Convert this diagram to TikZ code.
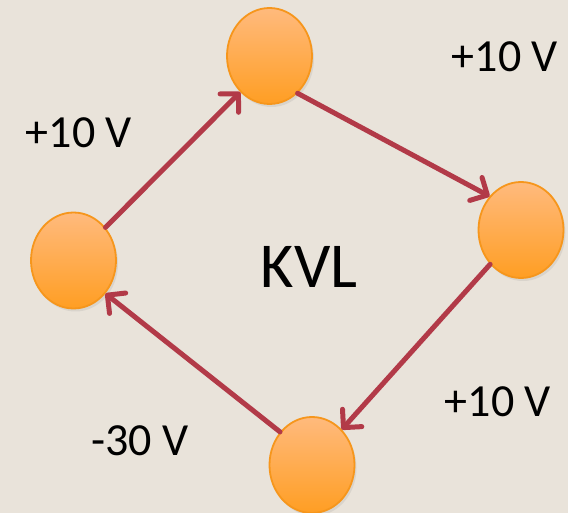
\documentclass[tikz,border=0pt]{standalone}
\usepackage{fontspec}
\setmainfont{Carlito}
\usetikzlibrary{arrows.meta,shapes.geometric,shadows}
\definecolor{bg}{RGB}{233,227,218}
\definecolor{arr}{RGB}{178,58,72}
\definecolor{ebord}{RGB}{246,150,28}
\definecolor{etop}{RGB}{255,186,125}
\definecolor{ebot}{RGB}{255,158,35}
\begin{document}
\begin{tikzpicture}[x=1pt,y=-1pt,
  ball/.style={ellipse, draw=ebord, line width=1.8pt, top color=etop, bottom color=ebot,
    minimum width=85pt, minimum height=96pt, inner sep=0pt,
    drop shadow={opacity=0.15, shadow xshift=2pt, shadow yshift=-3pt}},
  conn/.style={draw=arr, line width=5pt, line cap=round,
    -{Straight Barb[length=13pt,width=26pt,line width=5pt,round]}},
  lab/.style={anchor=base, font=\fontsize{46}{50}\selectfont, inner sep=0pt}]
\fill[bg] (0,0) rectangle (568,513);
\useasboundingbox (0,0) rectangle (568,513);
\node[ball] (t) at (269.5,56) {};
\node[ball] (r) at (521,230) {};
\node[ball] (b) at (312,465) {};
\node[ball] (l) at (73.5,260.5) {};
\draw[conn] (l.46) -- (t.231);
\draw[conn] (t.-53) -- (r.133);
\draw[conn] (r.228) -- (b.50);
\draw[conn] (b.134) -- (l.-46);
\node[lab] (lt) at (79,148) {+10 V};
\node[lab] (rt) at (505,72) {+10 V};
\node[lab] (rb) at (498,416) {+10 V};
\node[lab] (lb) at (140,455) {-30 V};
\node[anchor=base, font=\fontsize{64}{70}\selectfont, inner sep=0pt] (kvl) at (309,288) {KVL};
\end{tikzpicture}
\end{document}
